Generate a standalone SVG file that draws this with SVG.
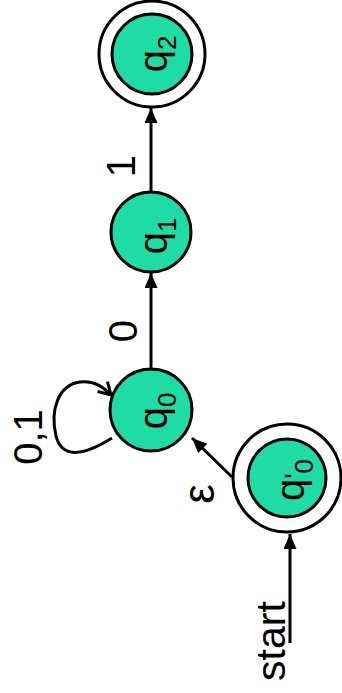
<svg xmlns="http://www.w3.org/2000/svg" width="342" height="693" viewBox="0 0 342 693">
<style>
.st{fill:#1edca3;stroke:#000;stroke-width:3}
.ring{fill:#fff;stroke:#000;stroke-width:3}
.e{stroke:#000;stroke-width:3;fill:none}
text{font-family:"Liberation Sans",Arial,sans-serif;font-size:40px;fill:#000;text-anchor:middle}
.sub{font-size:26px}
</style>
<defs>
<marker id="ah" markerUnits="userSpaceOnUse" markerWidth="16" markerHeight="14" refX="15" refY="6.5" orient="auto">
<path d="M0,0 L15,6.5 L0,13 z" fill="#000"/>
</marker>
<marker id="av" markerUnits="userSpaceOnUse" markerWidth="18" markerHeight="18" refX="14" refY="8" orient="auto">
<path d="M2,1 L14,8 L2,15" fill="none" stroke="#000" stroke-width="3"/>
</marker>
</defs>
<g id="connectors">
<line class="e" x1="151" y1="192" x2="151" y2="108" marker-end="url(#ah)"/>
<line class="e" x1="151" y1="368" x2="151" y2="273" marker-end="url(#ah)"/>
<line class="e" x1="232" y1="477" x2="192" y2="438" marker-end="url(#ah)"/>
<line class="e" x1="290" y1="643" x2="290" y2="534" marker-end="url(#ah)"/>
<path class="e" d="M112,438 C85,455 62,460 56,436 C50,410 58,385 80,382 C95,380 104,388 111,395" marker-end="url(#av)"/>
<text transform="translate(135,166) rotate(-90)">1</text>
<text transform="translate(137,331) rotate(-90)">0</text>
<text transform="translate(42,437) rotate(-90)">0,1</text>
<text transform="translate(214,494) rotate(-90)" style="font-size:44px">ε</text>
<text transform="translate(285,641) rotate(-90)" style="font-size:41px">start</text>
</g>
<g id="q2">
<circle class="ring" cx="152" cy="54" r="53"/>
<circle class="st" cx="152" cy="54" r="40"/>
<text transform="translate(167,54) rotate(-90)">q<tspan class="sub" dy="9">2</tspan></text>
</g>
<g id="q1">
<circle class="st" cx="151" cy="232" r="40"/>
<text transform="translate(167,236) rotate(-90)">q<tspan class="sub" dy="9">1</tspan></text>
</g>
<g id="q0">
<circle class="st" cx="151" cy="410" r="41"/>
<text transform="translate(167,411) rotate(-90)">q<tspan class="sub" dy="9">0</tspan></text>
</g>
<g id="q0p">
<circle class="ring" cx="287" cy="478" r="54"/>
<circle class="st" cx="287" cy="478" r="39"/>
<text transform="translate(304,480) rotate(-90)">q<tspan style="font-size:28px">'</tspan><tspan class="sub" dy="9">0</tspan></text>
</g>
</svg>
